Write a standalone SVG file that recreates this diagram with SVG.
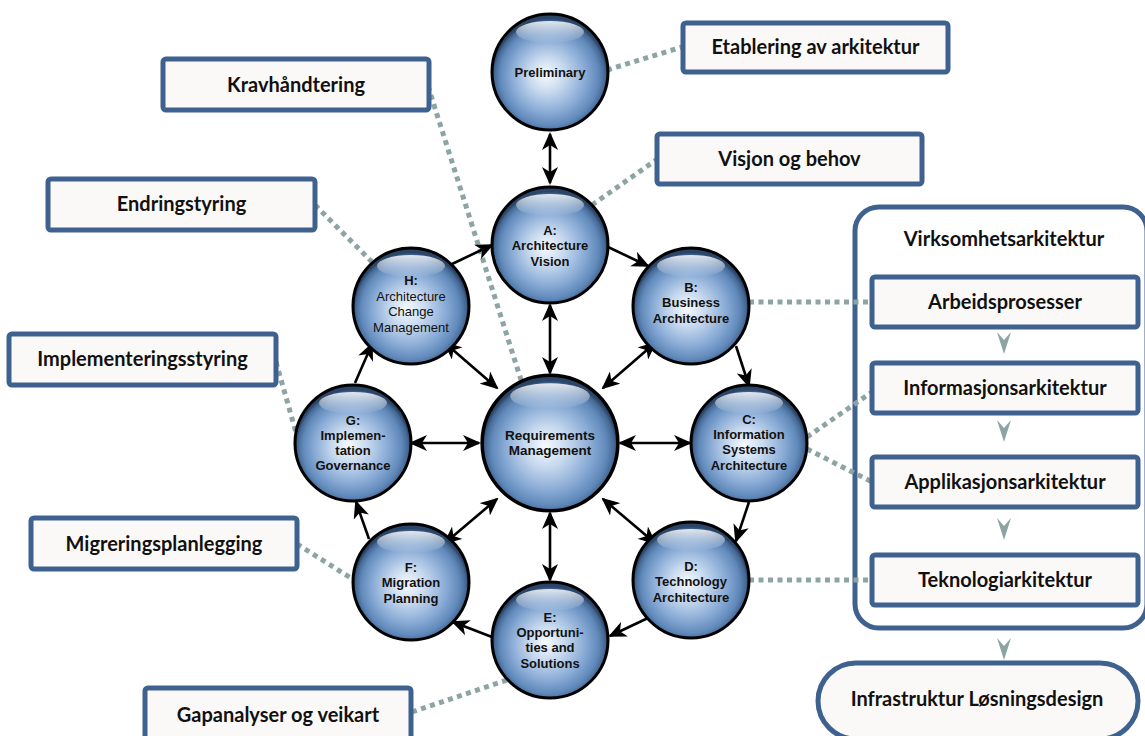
<svg xmlns="http://www.w3.org/2000/svg" xmlns:xlink="http://www.w3.org/1999/xlink" width="1145" height="736" viewBox="0 0 1145 736">
  <style>
    .box { fill: #FBF9F7; stroke: #3F6190; stroke-width: 5; }
    .panel { fill: #FFFFFF; stroke: #3F6190; stroke-width: 5; }
    .btxt { font-family: Lato, "Liberation Sans", sans-serif; font-weight: bold; font-size: 20px; fill: #111111; text-anchor: middle; }
    .ctxt { font-family: "Liberation Sans", Arial, sans-serif; font-weight: bold; font-size: 13px; fill: #111111; text-anchor: middle; }
    .ctxt-r { font-family: "Liberation Sans", Arial, sans-serif; font-weight: normal; font-size: 13px; fill: #111111; text-anchor: middle; }
    .dot { fill: none; stroke: #8DA4A4; stroke-width: 5; stroke-dasharray: 5 4.5; }
    .arr { fill: none; stroke: #000000; stroke-width: 2.6; marker-end: url(#ah); }
    .arr2 { fill: none; stroke: #000000; stroke-width: 2.6; marker-end: url(#ah); marker-start: url(#ah); }
    .chev { fill: #8DA4A4; }
  </style>
  <defs>
    <radialGradient id="ballFill" cx="0.5" cy="0.54" r="0.5" fx="0.46" fy="0.52">
      <stop offset="0" stop-color="#F7FAFD"/>
      <stop offset="0.3" stop-color="#C8DAEF"/>
      <stop offset="0.64" stop-color="#88AAD5"/>
      <stop offset="0.85" stop-color="#6089BA"/>
      <stop offset="0.95" stop-color="#466995"/>
      <stop offset="1" stop-color="#2B4568"/>
    </radialGradient>
    <linearGradient id="gloss" x1="0" y1="0" x2="0" y2="1">
      <stop offset="0" stop-color="#FFFFFF" stop-opacity="0.85"/>
      <stop offset="1" stop-color="#FFFFFF" stop-opacity="0"/>
    </linearGradient>
    <marker id="ah" viewBox="0 0 18 16" refX="16" refY="8" markerWidth="18" markerHeight="16" markerUnits="userSpaceOnUse" orient="auto-start-reverse">
      <path d="M0,0 L18,8 L0,16 L5,8 Z" fill="#000000"/>
    </marker>
    <g id="orb">
      <circle r="58" fill="url(#ballFill)" stroke="#000000" stroke-width="3"/>
      <ellipse cx="0" cy="-40" rx="34" ry="11" fill="url(#gloss)"/>
    </g>
    <path id="chevron" d="M-7,0 L0,8 L7,0 L0,22 Z"/>
  </defs>

  <!-- right side panel -->
  <g id="panel">
    <rect class="panel" x="855" y="207" width="292" height="421" rx="24"/>
    <text class="btxt" x="1004" y="246">Virksomhetsarkitektur</text>
  </g>

  <!-- dotted association lines -->
  <g id="connectors-dotted">
    <line class="dot" x1="607" y1="70" x2="682" y2="47"/>
    <line class="dot" x1="592" y1="205" x2="656" y2="160"/>
    <line class="dot" x1="428" y1="86" x2="521" y2="380"/>
    <line class="dot" x1="315" y1="205" x2="372" y2="262"/>
    <line class="dot" x1="276" y1="362" x2="297" y2="436"/>
    <line class="dot" x1="297" y1="544" x2="354" y2="580"/>
    <line class="dot" x1="412" y1="712" x2="510" y2="679"/>
    <line class="dot" x1="749" y1="302" x2="872" y2="302"/>
    <line class="dot" x1="807" y1="437" x2="872" y2="392"/>
    <line class="dot" x1="807" y1="449" x2="872" y2="482"/>
    <line class="dot" x1="749" y1="580" x2="872" y2="580"/>
  </g>

  <!-- cycle and hub arrows -->
  <g id="connectors">
    <line class="arr2" x1="550" y1="134" x2="550" y2="183"/>
    <line class="arr" x1="608" y1="247" x2="648" y2="266"/>
    <line class="arr" x1="736" y1="346" x2="749" y2="386"/>
    <line class="arr" x1="749" y1="502" x2="736" y2="541"/>
    <line class="arr" x1="648" y1="618" x2="610" y2="636"/>
    <line class="arr" x1="492" y1="637" x2="453" y2="622"/>
    <line class="arr" x1="369" y1="539" x2="356" y2="502"/>
    <line class="arr" x1="355" y1="383" x2="372" y2="344"/>
    <line class="arr" x1="452" y1="264" x2="492" y2="245"/>
    <line class="arr2" x1="550" y1="373" x2="550" y2="305"/>
    <line class="arr2" x1="550" y1="513" x2="550" y2="580"/>
    <line class="arr2" x1="620" y1="443" x2="690" y2="443"/>
    <line class="arr2" x1="479" y1="443" x2="411" y2="443"/>
    <line class="arr2" x1="603" y1="388" x2="655" y2="343"/>
    <line class="arr2" x1="497" y1="388" x2="445" y2="343"/>
    <line class="arr2" x1="603" y1="499" x2="655" y2="543"/>
    <line class="arr2" x1="497" y1="499" x2="445" y2="543"/>
  </g>

  <!-- phase circles -->
  <g id="node-preliminary">
    <use xlink:href="#orb" href="#orb" x="550" y="72"/>
    <text class="ctxt" x="550" y="77">Preliminary</text>
  </g>
  <g id="node-a">
    <use xlink:href="#orb" href="#orb" x="550" y="245"/>
    <text class="ctxt" x="550" y="235">A:</text>
    <text class="ctxt" x="550" y="250">Architecture</text>
    <text class="ctxt" x="550" y="266">Vision</text>
  </g>
  <g id="node-b">
    <use xlink:href="#orb" href="#orb" x="691" y="306"/>
    <text class="ctxt" x="691" y="292">B:</text>
    <text class="ctxt" x="691" y="307">Business</text>
    <text class="ctxt" x="691" y="323">Architecture</text>
  </g>
  <g id="node-c">
    <use xlink:href="#orb" href="#orb" x="749" y="443"/>
    <text class="ctxt" x="749" y="424">C:</text>
    <text class="ctxt" x="749" y="439">Information</text>
    <text class="ctxt" x="749" y="454">Systems</text>
    <text class="ctxt" x="749" y="470">Architecture</text>
  </g>
  <g id="node-d">
    <use xlink:href="#orb" href="#orb" x="691" y="580"/>
    <text class="ctxt" x="691" y="571">D:</text>
    <text class="ctxt" x="691" y="586">Technology</text>
    <text class="ctxt" x="691" y="602">Architecture</text>
  </g>
  <g id="node-e">
    <use xlink:href="#orb" href="#orb" x="550" y="640"/>
    <text class="ctxt" x="550" y="622">E:</text>
    <text class="ctxt" x="550" y="637">Opportuni-</text>
    <text class="ctxt" x="550" y="652">ties and</text>
    <text class="ctxt" x="550" y="668">Solutions</text>
  </g>
  <g id="node-f">
    <use xlink:href="#orb" href="#orb" x="411" y="582"/>
    <text class="ctxt" x="411" y="572">F:</text>
    <text class="ctxt" x="411" y="587">Migration</text>
    <text class="ctxt" x="411" y="603">Planning</text>
  </g>
  <g id="node-g">
    <use xlink:href="#orb" href="#orb" x="353" y="443"/>
    <text class="ctxt" x="353" y="425">G:</text>
    <text class="ctxt" x="353" y="440">Implemen-</text>
    <text class="ctxt" x="353" y="455">tation</text>
    <text class="ctxt" x="353" y="470">Governance</text>
  </g>
  <g id="node-h">
    <use xlink:href="#orb" href="#orb" x="411" y="306"/>
    <text class="ctxt" x="411" y="285">H:</text>
    <text class="ctxt-r" x="411" y="301">Architecture</text>
    <text class="ctxt-r" x="411" y="316">Change</text>
    <text class="ctxt-r" x="411" y="332">Management</text>
  </g>
  <g id="node-requirements">
    <use xlink:href="#orb" href="#orb" transform="translate(550 443) scale(1.17)"/>
    <text class="ctxt" style="font-size:13.5px" x="550" y="440">Requirements</text>
    <text class="ctxt" style="font-size:13.5px" x="550" y="455">Management</text>
  </g>

  <!-- label boxes -->
  <g id="box-etablering">
    <rect class="box" x="683" y="23" width="265" height="49" rx="3"/>
    <text class="btxt" x="815.5" y="54">Etablering av arkitektur</text>
  </g>
  <g id="box-krav">
    <rect class="box" x="163" y="59" width="266" height="51" rx="3"/>
    <text class="btxt" x="296" y="92">Kravhåndtering</text>
  </g>
  <g id="box-visjon">
    <rect class="box" x="657" y="134" width="265" height="50" rx="3"/>
    <text class="btxt" x="789.5" y="166">Visjon og behov</text>
  </g>
  <g id="box-endring">
    <rect class="box" x="48" y="179" width="267" height="51" rx="3"/>
    <text class="btxt" x="181.5" y="211">Endringstyring</text>
  </g>
  <g id="box-implementering">
    <rect class="box" x="9" y="334" width="267" height="51" rx="3"/>
    <text class="btxt" x="142.5" y="366">Implementeringsstyring</text>
  </g>
  <g id="box-migrering">
    <rect class="box" x="31" y="518" width="266" height="51" rx="3"/>
    <text class="btxt" x="164" y="551">Migreringsplanlegging</text>
  </g>
  <g id="box-gap">
    <rect class="box" x="145" y="688" width="266" height="52" rx="3"/>
    <text class="btxt" x="278" y="722">Gapanalyser og veikart</text>
  </g>

  <!-- enterprise architecture layers -->
  <g id="box-arbeid">
    <rect class="box" x="872" y="277" width="266" height="50" rx="3"/>
    <text class="btxt" x="1005" y="309">Arbeidsprosesser</text>
  </g>
  <g id="box-informasjon">
    <rect class="box" x="872" y="363" width="266" height="50" rx="3"/>
    <text class="btxt" x="1005" y="395">Informasjonsarkitektur</text>
  </g>
  <g id="box-applikasjon">
    <rect class="box" x="872" y="457" width="266" height="50" rx="3"/>
    <text class="btxt" x="1005" y="489">Applikasjonsarkitektur</text>
  </g>
  <g id="box-teknologi">
    <rect class="box" x="872" y="555" width="266" height="50" rx="3"/>
    <text class="btxt" x="1005" y="587">Teknologiarkitektur</text>
  </g>
  <g id="box-infrastruktur">
    <rect class="box" x="818" y="663" width="320" height="76" rx="38"/>
    <text class="btxt" x="977" y="706">Infrastruktur Løsningsdesign</text>
  </g>

  <!-- flow chevrons between layers -->
  <g id="chevrons" class="chev">
    <use xlink:href="#chevron" href="#chevron" x="1004" y="332"/>
    <use xlink:href="#chevron" href="#chevron" x="1004" y="420"/>
    <use xlink:href="#chevron" href="#chevron" x="1004" y="518"/>
    <use xlink:href="#chevron" href="#chevron" x="1004" y="638"/>
  </g>
</svg>
